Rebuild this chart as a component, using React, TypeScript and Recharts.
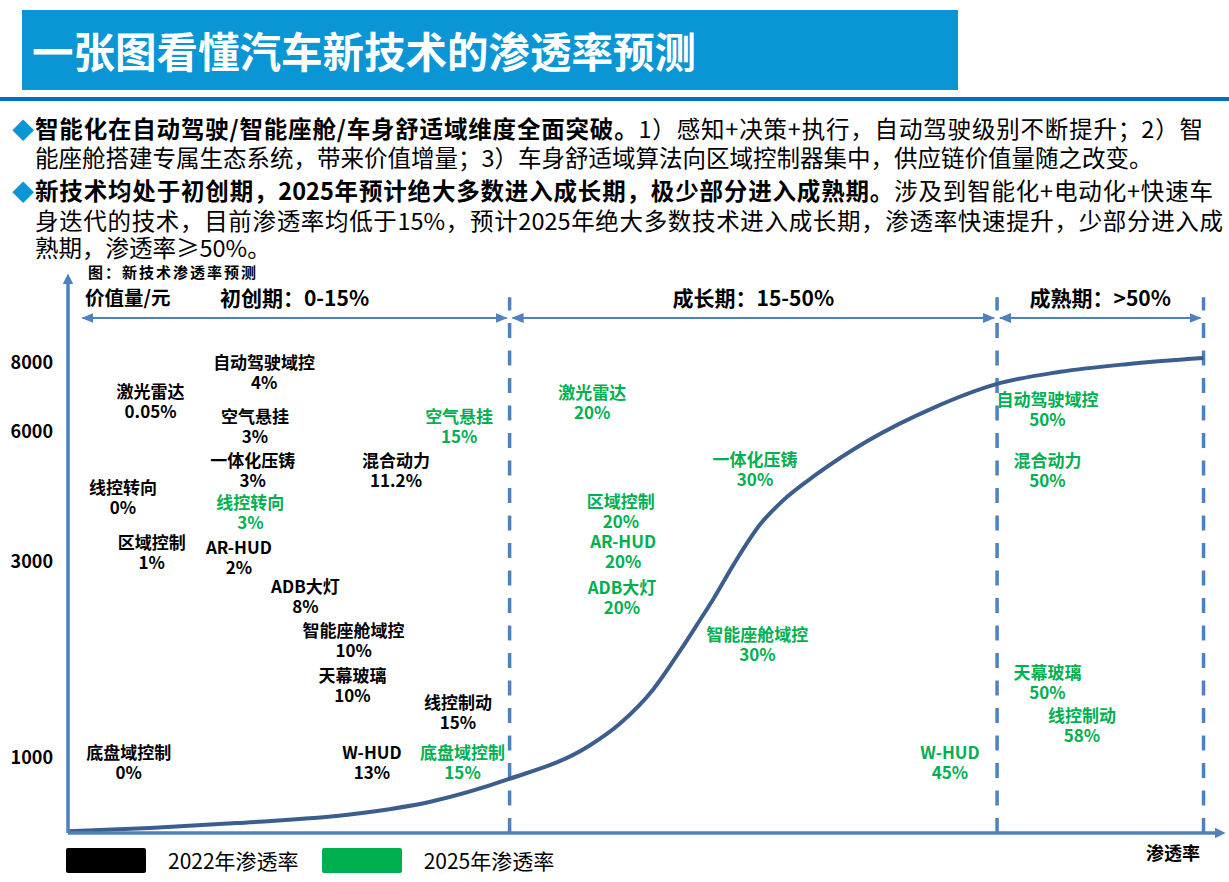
import React from 'react';
import { ComposedChart, Line, Scatter, XAxis, YAxis, ReferenceLine, Legend } from 'recharts';

const FONT = '"Microsoft YaHei", "Noto Sans CJK SC", sans-serif';
const AXIS = '#4F81BD';
const CURVE = '#3B5E8F';
const GREEN = '#00B050';

// value axis (元), hand-drawn spacing on a 0-100 chart scale
const valueTicks = ['1000', '3000', '6000', '8000'];
const valueLevels = [13.8, 49.4, 73.2, 85.6];

// stages along the penetration axis (0-100 chart scale)
const stageNames = ['初创期：0-15%', '成长期：15-50%', '成熟期：>50%'];
const stageBounds = [1, 38.5, 81, 99];

// S-curve of penetration
const curveX = [0, 7.15, 14.7, 25.1, 31.6, 38.4, 45.3, 48.1, 51.0, 53.4, 55.1, 56.2, 58.0, 60.3, 62.3, 65.3, 69.7, 75.4, 81.0, 86.5, 92.3, 99.0];
const curveY = [0.3, 0.9, 1.8, 3.5, 5.7, 9.8, 15.7, 19.9, 26.1, 33.3, 38.8, 42.4, 48.8, 56.1, 60.5, 65.4, 71.4, 77.4, 81.8, 84.0, 85.4, 86.5];

// 2022 penetration labels
const techs2022 = ['自动驾驶域控', '激光雷达', '空气悬挂', '一体化压铸', '混合动力', '线控转向', '区域控制', 'AR-HUD', 'ADB大灯', '智能座舱域控', '天幕玻璃', '线控制动', '底盘域控制', 'W-HUD'];
const rates2022 = ['4%', '0.05%', '3%', '3%', '11.2%', '0%', '1%', '2%', '8%', '10%', '10%', '15%', '0%', '13%'];
const stage2022 = [17.1, 7.2, 16.3, 16.1, 28.6, 4.8, 7.3, 14.9, 20.7, 24.9, 24.8, 34.0, 5.3, 26.5];
const level2022 = [85.6, 80.3, 75.8, 67.8, 67.8, 62.8, 52.8, 51.9, 44.8, 36.8, 28.6, 23.7, 14.6, 14.6];

// 2025 penetration labels
const techs2025 = ['空气悬挂', '线控转向', '底盘域控制', '激光雷达', '一体化压铸', '区域控制', 'AR-HUD', 'ADB大灯', '智能座舱域控', 'W-HUD', '自动驾驶域控', '混合动力', '天幕玻璃', '线控制动'];
const rates2025 = ['15%', '3%', '15%', '20%', '30%', '20%', '20%', '20%', '30%', '45%', '50%', '50%', '50%', '58%'];
const stage2025 = [34.1, 15.9, 34.4, 45.7, 59.9, 48.2, 48.4, 48.3, 60.1, 76.9, 85.4, 85.4, 85.4, 88.4];
const level2025 = [75.8, 60.1, 14.6, 80.2, 67.9, 60.3, 53.0, 44.6, 36.1, 14.6, 78.9, 67.8, 29.1, 21.3];

const curveData = curveX.map((x, i) => ({ x, y: curveY[i] }));
const toPoints = (names: string[], rates: string[], xs: number[], ys: number[]) =>
  names.map((name, i) => ({ name, rate: rates[i], x: xs[i], y: ys[i] }));
const points2022 = toPoints(techs2022, rates2022, stage2022, level2022);
const points2025 = toPoints(techs2025, rates2025, stage2025, level2025);

const ARROW_LEVEL = 93.8;

const techLabel = (color: string) => (props: any) => {
  const { cx, cy, payload } = props;
  return (
    <text x={cx} y={cy} textAnchor="middle" fill={color} fontSize={17} fontWeight={700} fontFamily={FONT}>
      <tspan x={cx} dy="0.35em">{payload.name}</tspan>
      <tspan x={cx} dy={20}>{payload.rate}</tspan>
    </text>
  );
};

const stageArrow = (name: string) => (p: any) => (
  <g>
    <line
      x1={p.x1 + 3}
      y1={p.y1}
      x2={p.x2 - 3}
      y2={p.y2}
      stroke={AXIS}
      strokeWidth={2}
      markerStart="url(#stageTip)"
      markerEnd="url(#stageTip)"
    />
    <text
      x={(p.x1 + p.x2) / 2}
      y={p.y1 - 21}
      textAnchor="middle"
      dominantBaseline="central"
      fontSize={21}
      fontWeight={700}
      fontFamily={FONT}
      fill="#000"
    >
      {name}
    </text>
  </g>
);

const renderLegend = (props: any) => (
  <div style={{ display: 'flex', alignItems: 'center', fontFamily: FONT, whiteSpace: 'nowrap' }}>
    {(props.payload || [])
      .filter((p: any) => p.type !== 'none')
      .map((p: any) => (
        <div key={p.value} style={{ display: 'flex', alignItems: 'center', marginRight: 23, flexShrink: 0 }}>
          <span
            style={{ display: 'inline-block', flexShrink: 0, width: 80, height: 25, background: p.color, borderRadius: 2, marginRight: 22 }}
          />
          <span style={{ fontSize: 21, lineHeight: '25px', color: '#000' }}>{p.value}</span>
        </div>
      ))}
  </div>
);

const bulletLines = [
  { bold: '智能化在自动驾驶/智能座舱/车身舒适域维度全面突破。', text: '1）感知+决策+执行，自动驾驶级别不断提升；2）智', mark: true, top: 114, end: 1203 },
  { bold: '', text: '能座舱搭建专属生态系统，带来价值增量；3）车身舒适域算法向区域控制器集中，供应链价值量随之改变。', mark: false, top: 143, end: 0 },
  { bold: '新技术均处于初创期，2025年预计绝大多数进入成长期，极少部分进入成熟期。', text: '涉及到智能化+电动化+快速车', mark: true, top: 176, end: 1213 },
  { bold: '', text: '身迭代的技术，目前渗透率均低于15%，预计2025年绝大多数技术进入成长期，渗透率快速提升，少部分进入成', mark: false, top: 206, end: 1223 },
  { bold: '', text: '熟期，渗透率≥50%。', mark: false, top: 233, end: 0 },
];

export default function App() {
  return (
    <div
      lang="zh-CN"
      style={{ position: 'absolute', left: 0, top: 0, width: 1229, height: 882, background: '#fff', fontFamily: FONT, overflow: 'hidden' }}
    >
      <svg width={0} height={0} style={{ position: 'absolute' }}>
        <defs>
          <marker id="axisTip" viewBox="0 0 10 10" refX={0} refY={5} markerWidth={4} markerHeight={3} orient="auto-start-reverse" markerUnits="strokeWidth">
            <path d="M0,0 L10,5 L0,10 z" fill={AXIS} />
          </marker>
          <marker id="stageTip" viewBox="0 0 12 10" refX={11} refY={5} markerWidth={6} markerHeight={5} orient="auto-start-reverse" markerUnits="strokeWidth">
            <path d="M0,0 L12,5 L0,10 z" fill={AXIS} />
          </marker>
        </defs>
      </svg>

      <div style={{ position: 'absolute', left: 0, top: 0 }}>
        <ComposedChart width={1229} height={882} margin={{ top: 284, right: 14, bottom: 19, left: 0 }}>
          <XAxis
            type="number"
            dataKey="x"
            domain={[0, 100]}
            tick={false}
            tickLine={false}
            height={30}
            axisLine={{ stroke: AXIS, strokeWidth: 3.5, markerEnd: 'url(#axisTip)' }}
            label={(p: any) => {
              const vb = p.viewBox;
              return (
                <text x={vb.x + vb.width - 15} y={vb.y + 19} textAnchor="end" dominantBaseline="central" fontSize={18} fontWeight={700} fontFamily={FONT} fill="#000">
                  渗透率
                </text>
              );
            }}
          />
          <YAxis
            type="number"
            dataKey="y"
            domain={[0, 100]}
            ticks={valueLevels}
            interval={0}
            tickFormatter={(v: number) => valueTicks[valueLevels.indexOf(v)]}
            tickLine={false}
            tickMargin={9}
            width={68}
            tick={{ fill: '#000', fontSize: 18, fontWeight: 700, fontFamily: FONT }}
            axisLine={{ stroke: AXIS, strokeWidth: 3.5, markerStart: 'url(#axisTip)' }}
            label={(p: any) => {
              const vb = p.viewBox;
              return (
                <text x={vb.x + vb.width + 17} y={vb.y + 12} dominantBaseline="central" fontSize={19.5} fontWeight={700} fontFamily={FONT} fill="#000">
                  价值量/元
                </text>
              );
            }}
          />

          {stageBounds.slice(1).map((b) => (
            <ReferenceLine
              key={'b' + b}
              segment={[{ x: b, y: 0 }, { x: b, y: 97.6 }]}
              stroke={AXIS}
              strokeWidth={3.5}
              strokeDasharray="15 12.5"
            />
          ))}
          {stageNames.map((name, i) => (
            <ReferenceLine
              key={name}
              segment={[{ x: stageBounds[i], y: ARROW_LEVEL }, { x: stageBounds[i + 1], y: ARROW_LEVEL }]}
              shape={stageArrow(name)}
            />
          ))}

          <Line
            data={curveData}
            dataKey="y"
            type="monotone"
            stroke={CURVE}
            strokeWidth={4}
            dot={false}
            legendType="none"
            isAnimationActive={false}
          />
          <Scatter name="2022年渗透率" data={points2022} fill="#000000" shape={techLabel('#000000')} isAnimationActive={false} />
          <Scatter name="2025年渗透率" data={points2025} fill={GREEN} shape={techLabel(GREEN)} isAnimationActive={false} />

          <Legend
            layout="horizontal"
            verticalAlign="middle"
            align="center"
            content={renderLegend}
            wrapperStyle={{ top: 848, left: 66, width: 560, height: 28 }}
          />
        </ComposedChart>
      </div>

      {/* slide title */}
      <div
        style={{
          position: 'absolute', left: 22, top: 10, width: 936, height: 80, background: '#0A95D5',
          color: '#fff', fontSize: 41.5, fontWeight: 700, lineHeight: '80px', paddingLeft: 10, boxSizing: 'border-box',
          whiteSpace: 'nowrap',
        }}
      >
        一张图看懂汽车新技术的渗透率预测
      </div>
      <div style={{ position: 'absolute', left: 0, top: 97, width: 1229, height: 4, background: '#0070C0' }} />

      {bulletLines.map((l, i) => (
        <React.Fragment key={i}>
          {l.mark && (
            <div style={{ position: 'absolute', left: 12, top: l.top, lineHeight: '28px', fontSize: 22, color: '#0A95D5' }}>◆</div>
          )}
          <div
            style={{
              position: 'absolute', left: 35, top: l.top, lineHeight: '28px', fontSize: 23.5, color: '#000',
              width: l.end ? l.end - 35 : undefined, whiteSpace: l.end ? 'normal' : 'nowrap',
              textAlign: l.end ? 'justify' : 'left', textAlignLast: l.end ? 'justify' : 'auto',
            } as React.CSSProperties}
          >
            {l.bold && <b>{l.bold}</b>}
            {l.text}
          </div>
        </React.Fragment>
      ))}

      <div style={{ position: 'absolute', left: 88, top: 262, fontSize: 15, fontWeight: 700, letterSpacing: 2, lineHeight: '20px', color: '#000' }}>
        图：新技术渗透率预测
      </div>
    </div>
  );
}
